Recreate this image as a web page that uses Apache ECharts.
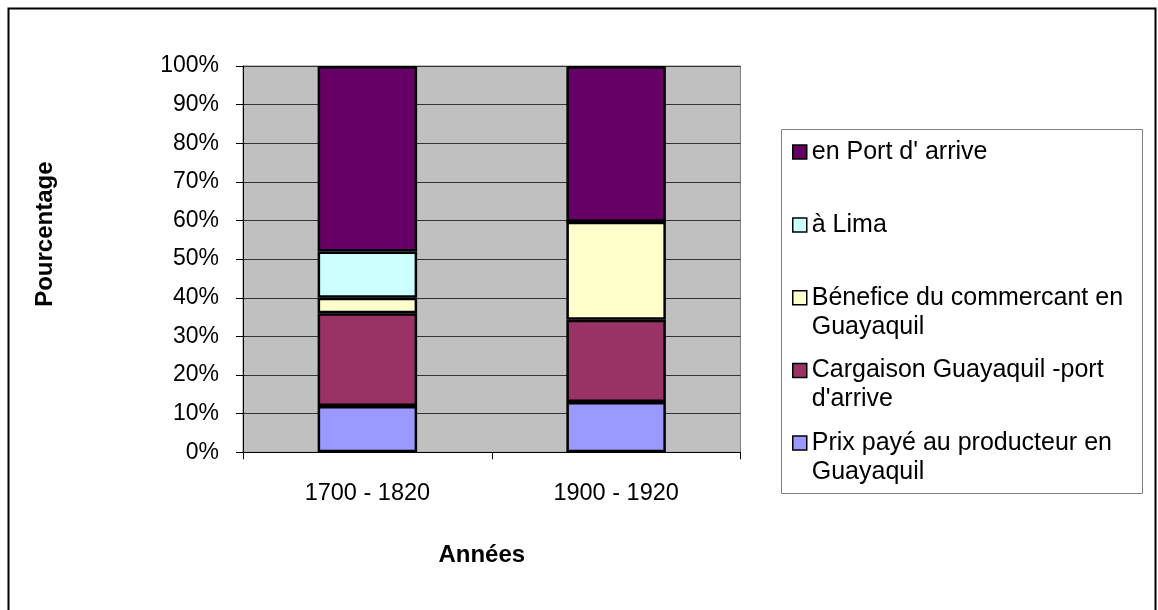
<!DOCTYPE html>
<html>
<head>
<meta charset="utf-8">
<script src="https://cdn.jsdelivr.net/npm/echarts@6/dist/echarts.min.js"></script>
<style>
  html, body { margin: 0; padding: 0; background: #fff; }
  #main { width: 1158px; height: 610px; }
</style>
</head>
<body>
<div id="main"></div>
<script>
// categories and stacked shares (percent), bottom to top
const periods = ['1700 - 1820', '1900 - 1920']
const prixProducteur = [12, 13]
const cargaison = [24, 21.3]
const beneficeCommercant = [4, 25.4]
const aLima = [12, 0]
const enPort = [48, 40.3]

const names = {
  prix: 'Prix payé au producteur en Guayaquil',
  cargo: 'Cargaison Guayaquil -port d\'arrive',
  benef: 'Bénefice du commercant en Guayaquil',
  lima: 'à Lima',
  port: 'en Port d\' arrive'
}
// how the legend wraps each label (leading blank line keeps the marker on the first line)
const legendText = {
  [names.prix]: '\nPrix payé au producteur en\nGuayaquil',
  [names.cargo]: '\nCargaison Guayaquil -port\nd\'arrive',
  [names.benef]: '\nBénefice du commercant en\nGuayaquil',
  [names.lima]: 'à Lima',
  [names.port]: 'en Port d\' arrive'
}

const font = 'Liberation Sans, Arial, sans-serif'
const chart = echarts.init(document.getElementById('main'))

const bar = (name, data, color) => ({
  name: name,
  type: 'bar',
  stack: 'total',
  barWidth: '40%',
  data: data,
  itemStyle: { color: color, borderColor: '#000', borderWidth: 2.5 }
})

const legendItem = (name, top) => ({
  orient: 'vertical',
  left: 787,
  top: top,
  icon: 'rect',
  itemWidth: 14,
  itemHeight: 14,
  selectedMode: false,
  itemStyle: { borderWidth: 1.5, borderColor: '#000' },
  textStyle: { fontSize: 25, lineHeight: 29, color: '#000', fontFamily: font },
  formatter: (n) => legendText[n],
  data: [name]
})

const option = {
  animation: false,
  graphic: [
    {
      type: 'rect',
      shape: { x: 8.5, y: 8.5, width: 1147, height: 640 },
      style: { fill: 'none', stroke: '#000', lineWidth: 2 },
      z: -10
    },
    {
      type: 'rect',
      shape: { x: 781.5, y: 129.5, width: 361, height: 364 },
      style: { fill: '#fff', stroke: '#808080', lineWidth: 1 },
      z: -5
    }
  ],
  grid: {
    left: 243,
    top: 66,
    right: 417.5,
    bottom: 157.7,
    show: true,
    backgroundColor: '#C0C0C0',
    borderColor: '#808080',
    borderWidth: 1
  },
  legend: [
    legendItem(names.port, 132.5),
    legendItem(names.lima, 205.5),
    legendItem(names.benef, 249.2),
    legendItem(names.cargo, 321.9),
    legendItem(names.prix, 394.6)
  ],
  xAxis: {
    type: 'category',
    data: periods,
    name: 'Années',
    nameLocation: 'middle',
    nameGap: 91,
    nameTextStyle: { fontSize: 24, fontWeight: 'bold', color: '#000', fontFamily: font, padding: [0, 20, 0, 0] },
    axisLine: { lineStyle: { color: '#000', width: 1 } },
    axisTick: { show: true, length: 7, lineStyle: { color: '#000' } },
    axisLabel: { fontSize: 23.5, color: '#000', fontFamily: font, margin: 29 },
    splitLine: { show: false }
  },
  yAxis: {
    type: 'value',
    min: 0,
    max: 100,
    interval: 10,
    name: 'Pourcentage',
    nameLocation: 'middle',
    nameRotate: 90,
    nameGap: 186,
    nameTextStyle: { fontSize: 24, fontWeight: 'bold', color: '#000', fontFamily: font, padding: [0, 0, 0, 50] },
    axisLine: { show: true, lineStyle: { color: '#000', width: 1 } },
    axisTick: { show: true, length: 7, lineStyle: { color: '#000' } },
    axisLabel: { fontSize: 23, color: '#000', fontFamily: font, margin: 24, formatter: '{value}%' },
    splitLine: { show: true, lineStyle: { color: '#333', width: 1 } }
  },
  series: [
    bar(names.prix, prixProducteur, '#9999FF'),
    bar(names.cargo, cargaison, '#993366'),
    bar(names.benef, beneficeCommercant, '#FFFFCC'),
    bar(names.lima, aLima, '#CCFFFF'),
    bar(names.port, enPort, '#660066')
  ]
}

chart.setOption(option)
</script>
</body>
</html>
